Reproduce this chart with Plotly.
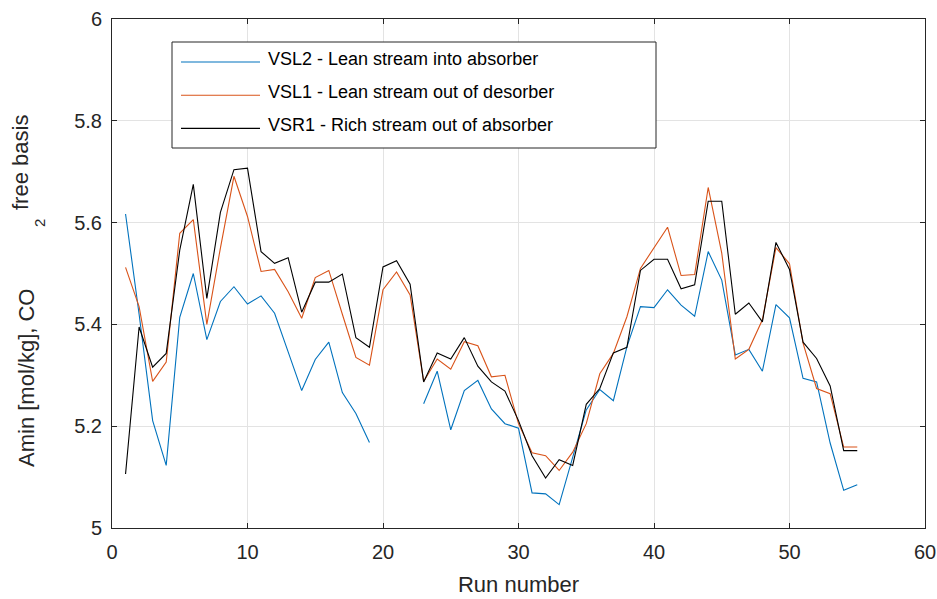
import plotly.graph_objects as go

runs = list(range(1, 56))

vsl2 = [5.617, 5.42, 5.211, 5.123, 5.414, 5.50, 5.37, 5.445, 5.474, 5.44,
        5.456, 5.422, 5.346, 5.27, 5.331, 5.365, 5.266, 5.225, 5.168, None,
        None, None, 5.244, 5.308, 5.193, 5.27, 5.29, 5.234, 5.205, 5.196,
        5.069, 5.067, 5.046, 5.139, 5.232, 5.272, 5.25, 5.356, 5.435, 5.433,
        5.468, 5.438, 5.416, 5.543, 5.487, 5.34, 5.351, 5.308, 5.439, 5.413,
        5.294, 5.287, 5.167, 5.074, 5.085]

vsl1 = [5.512, 5.435, 5.288, 5.326, 5.579, 5.606, 5.40, 5.55, 5.691, 5.612,
        5.504, 5.508, 5.464, 5.412, 5.492, 5.506, 5.42, 5.335, 5.32, 5.468,
        5.503, 5.458, 5.288, 5.332, 5.312, 5.366, 5.358, 5.297, 5.30, 5.205,
        5.148, 5.142, 5.113, 5.149, 5.205, 5.303, 5.343, 5.415, 5.51, 5.55,
        5.591, 5.496, 5.498, 5.669, 5.54, 5.332, 5.351, 5.409, 5.551, 5.519,
        5.363, 5.274, 5.264, 5.159, 5.159]

vsr1 = [5.106, 5.395, 5.316, 5.343, 5.546, 5.675, 5.451, 5.62, 5.704, 5.707,
        5.543, 5.52, 5.531, 5.424, 5.483, 5.483, 5.499, 5.374, 5.355, 5.513,
        5.525, 5.479, 5.287, 5.344, 5.332, 5.374, 5.318, 5.287, 5.269, 5.211,
        5.142, 5.098, 5.134, 5.123, 5.243, 5.274, 5.344, 5.355, 5.506, 5.528,
        5.528, 5.47, 5.478, 5.642, 5.642, 5.42, 5.442, 5.405, 5.561, 5.508,
        5.365, 5.333, 5.279, 5.152, 5.152]

names = ["VSL2 - Lean stream into absorber",
         "VSL1 - Lean stream out of desorber",
         "VSR1 - Rich stream out of absorber"]
colors = ["#0072BD", "#D95319", "#000000"]

x_ticks = [0, 10, 20, 30, 40, 50, 60]
y_ticks = [5, 5.2, 5.4, 5.6, 5.8, 6]
y_ticktext = ["5", "5.2", "5.4", "5.6", "5.8", "6"]

FONT = "Liberation Sans, Arial, Helvetica, sans-serif"
TXT = "#262626"

fig = go.Figure()
for ys, nm, c in zip([vsl2, vsl1, vsr1], names, colors):
    fig.add_trace(go.Scatter(x=runs, y=ys, mode="lines", name=nm,
                             line=dict(color=c, width=1.1),
                             connectgaps=False, showlegend=False))

ML, MR, MT, MB = 112, 12, 19, 71
fig.update_layout(
    width=937, height=599,
    margin=dict(l=ML, r=MR, t=MT, b=MB),
    paper_bgcolor="white", plot_bgcolor="white",
    font=dict(family=FONT, color=TXT, size=20),
)
axis_common = dict(showline=True, linecolor="#262626", linewidth=1, mirror="allticks",
                   ticks="inside", ticklen=5, tickcolor="#262626",
                   showgrid=True, gridcolor="#e3e3e3", gridwidth=1, zeroline=False,
                   ticklabeloverflow="allow", automargin=False,
                   tickfont=dict(size=20, color=TXT, family=FONT))
fig.update_xaxes(range=[0, 60], tickvals=x_ticks, ticklabelstandoff=6, **axis_common,
                 title=dict(text="Run number", font=dict(size=22, color=TXT), standoff=14))
fig.update_yaxes(range=[5, 6], tickvals=y_ticks, ticktext=y_ticktext, ticklabelstandoff=5,
                 **axis_common)

px0, pw, py0, ph = ML, 937 - ML - MR, MT, 599 - MT - MB
def fx(p): return (p - px0) / pw
def fy(p): return 1 - (p - py0) / ph

# y-axis title (CO2 with offset subscript as in reference)
fig.add_annotation(xref="paper", yref="paper", x=fx(26), y=fy(378), xanchor="center", yanchor="middle",
                   text="Amin [mol/kg], CO", textangle=-90, showarrow=False,
                   font=dict(size=22, color=TXT, family=FONT))
fig.add_annotation(xref="paper", yref="paper", x=fx(39), y=fy(223), xanchor="center", yanchor="middle",
                   text="2", textangle=-90, showarrow=False,
                   font=dict(size=15, color=TXT, family=FONT))
fig.add_annotation(xref="paper", yref="paper", x=fx(20), y=fy(163), xanchor="center", yanchor="middle",
                   text="free basis", textangle=-90, showarrow=False,
                   font=dict(size=22, color=TXT, family=FONT))

# legend box (manual, MATLAB style)
fig.add_shape(type="rect", xref="paper", yref="paper", x0=fx(172), x1=fx(656), y0=fy(148), y1=fy(42),
              line=dict(color="#262626", width=1), fillcolor="white", layer="above")
for i, (nm, c) in enumerate(zip(names, colors)):
    yy = 62 + i * 33.2
    fig.add_shape(type="line", xref="paper", yref="paper", x0=fx(181), x1=fx(260), y0=fy(yy), y1=fy(yy),
                  line=dict(color=c, width=1.1), layer="above")
    fig.add_annotation(xref="paper", yref="paper", x=fx(266), y=fy(yy - 3.5), xanchor="left", yanchor="middle",
                       text=nm, showarrow=False, font=dict(size=18, color="#000000", family=FONT))

fig.write_html("out.html")
